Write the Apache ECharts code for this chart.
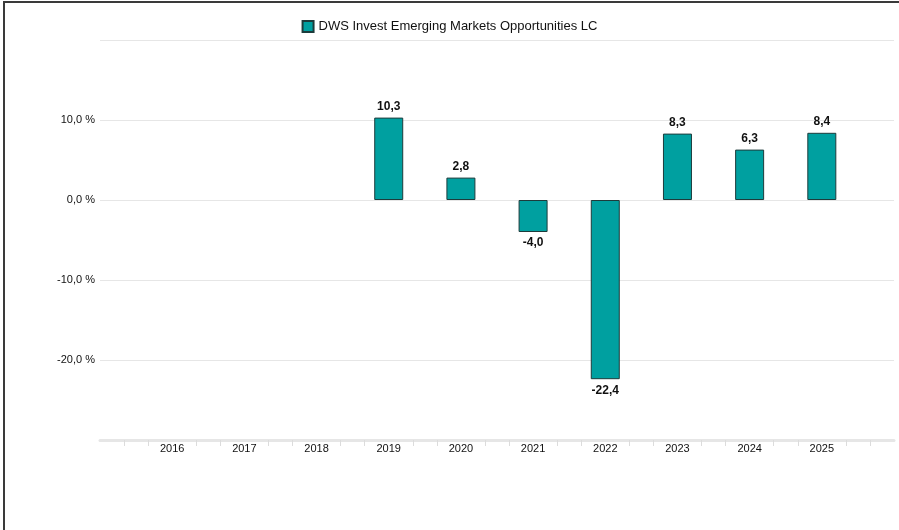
<!DOCTYPE html>
<html>
<head>
<meta charset="utf-8">
<script src="https://cdn.jsdelivr.net/npm/echarts@6/dist/echarts.min.js"></script>
<style>
  html, body { margin: 0; padding: 0; background: #fff; }
  #chart { position: absolute; left: 0; top: 0; width: 899px; height: 530px; }
  #frame { position: absolute; left: 3px; top: 1px; width: 896px; height: 529px;
           border-top: 2px solid #3a3a3a; border-left: 2px solid #3a3a3a; pointer-events: none; }
</style>
</head>
<body>
<div id="chart"></div>
<div id="frame"></div>
<script>
const seriesName = 'DWS Invest Emerging Markets Opportunities LC';
const years = [2019, 2020, 2021, 2022, 2023, 2024, 2025];
const returns = [10.3, 2.8, -4.0, -22.4, 8.3, 6.3, 8.4];
const yearTicks = [2016, 2017, 2018, 2019, 2020, 2021, 2022, 2023, 2024, 2025];
const yTickLabels = [10, 0, -10, -20];

const fmt = v => v.toFixed(1).replace('.', ',');

const chart = echarts.init(document.getElementById('chart'));

chart.setOption({
  animation: false,
  textStyle: { fontFamily: 'Liberation Sans, Arial, sans-serif' },
  legend: {
    top: 15,
    left: 'center',
    itemWidth: 11,
    itemHeight: 11,
    itemGap: 6,
    textStyle: { fontSize: 13, color: '#111' },
    data: [{ name: seriesName, icon: 'rect' }]
  },
  grid: { left: 100, right: 5, top: 40, bottom: 90 },
  xAxis: {
    type: 'value',
    min: 2015,
    max: 2026,
    interval: 1,
    axisLine: { show: true, onZero: false, lineStyle: { color: '#e6e6e6', width: 3 } },
    axisTick: { show: false },
    minorTick: { show: true, splitNumber: 3, length: 6, lineStyle: { color: '#dcdcdc', width: 1 } },
    splitLine: { show: false },
    axisLabel: {
      margin: 3,
      fontSize: 11,
      color: '#111',
      formatter: v => (yearTicks.indexOf(v) >= 0 ? String(v) : '')
    }
  },
  yAxis: {
    type: 'value',
    min: -30,
    max: 20,
    interval: 10,
    axisLine: { show: false },
    axisTick: { show: false },
    splitLine: { lineStyle: { color: '#e6e6e6', width: 1 } },
    axisLabel: {
      margin: 5,
      fontSize: 11,
      color: '#111',
      formatter: v => (yTickLabels.indexOf(v) >= 0 ? fmt(v) + ' %' : '')
    }
  },
  series: [{
    name: seriesName,
    type: 'bar',
    barWidth: 29,
    itemStyle: { color: '#00a0a0', borderColor: '#1d3b3b', borderWidth: 1 },
    label: {
      show: true,
      fontSize: 12,
      fontWeight: 'bold',
      color: '#111',
      distance: 5,
      formatter: p => fmt(p.value[1])
    },
    data: years.map((y, i) => ({
      value: [y, returns[i]],
      label: { position: returns[i] >= 0 ? 'top' : 'bottom' }
    }))
  }]
});
</script>
</body>
</html>
